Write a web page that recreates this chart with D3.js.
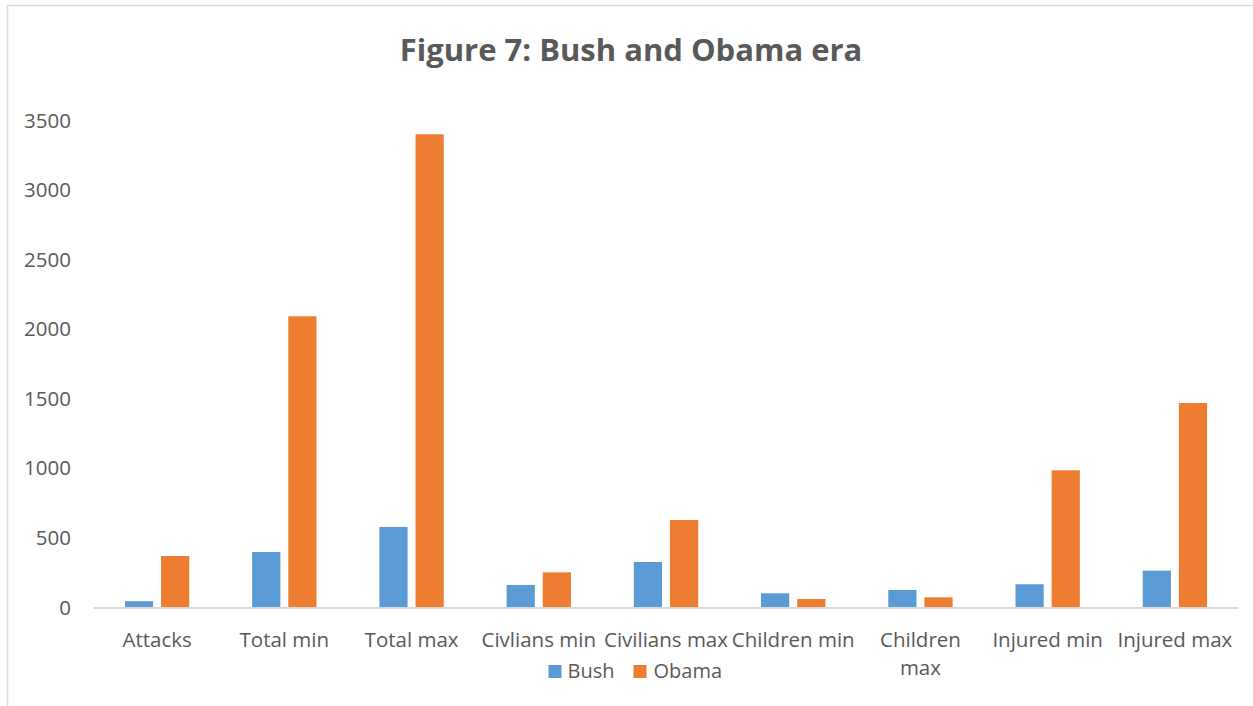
<!DOCTYPE html>
<html>
<head>
<meta charset="utf-8">
<script src="https://cdn.jsdelivr.net/npm/d3@7"></script>
<style>
  html, body { margin: 0; padding: 0; background: #fff; }
  svg { display: block; font-family: "Open Sans", sans-serif; }
</style>
</head>
<body>
<svg id="chart" width="1253" height="706"></svg>
<script>
const title = "Figure 7: Bush and Obama era";
const categories = ["Attacks", "Total min", "Total max", "Civlians min", "Civilians max", "Children min", "Children max", "Injured min", "Injured max"];
const categoryLines = [["Attacks"], ["Total min"], ["Total max"], ["Civlians min"], ["Civilians max"], ["Children min"], ["Children", "max"], ["Injured min"], ["Injured max"]];
const seriesNames = ["Bush", "Obama"];
const bushValues  = [45, 399, 579, 162, 327, 102, 126, 167, 265];
const obamaValues = [370, 2093, 3401, 253, 629, 61, 73, 986, 1470];
const yTicks = [0, 500, 1000, 1500, 2000, 2500, 3000, 3500];
const colors = ["#5B9BD5", "#ED7D31"];

const svg = d3.select("#chart");
const textColor = "#595959";

// chart border
svg.append("rect")
  .attr("x", 7.5).attr("y", 5.5)
  .attr("width", 1260).attr("height", 720)
  .attr("fill", "none").attr("stroke", "#d9d9d9").attr("stroke-width", 1.5);

const plotLeft = 93.5, plotRight = 1238.5, plotTop = 120.5, plotBottom = 607.5;

const x0 = d3.scaleBand().domain(categories).range([plotLeft, plotRight]).padding(0);
const x1 = d3.scaleBand().domain(seriesNames).range([0, x0.bandwidth()])
  .paddingInner(0.22).paddingOuter(0.87);
const y = d3.scaleLinear().domain([0, 3500]).range([plotBottom, plotTop]);

// title
svg.append("text")
  .attr("x", 631).attr("y", 61)
  .attr("text-anchor", "middle")
  .attr("font-size", 31).attr("font-weight", "bold")
  .attr("fill", textColor)
  .text(title);

// y axis
const yAxis = svg.append("g")
  .attr("transform", `translate(${plotLeft},0)`)
  .call(d3.axisLeft(y).tickValues(yTicks).tickSize(0).tickPadding(22.5).tickFormat(d3.format("d")));
yAxis.select(".domain").remove();
yAxis.selectAll("text").attr("font-size", 20.5).attr("fill", textColor).attr("font-family", "Open Sans, sans-serif");

// bars
const data = categories.map((c, i) => ({ c, vals: [bushValues[i], obamaValues[i]] }));
const groups = svg.append("g").selectAll("g").data(data).join("g")
  .attr("transform", d => `translate(${x0(d.c)},0)`);
groups.selectAll("rect").data(d => d.vals.map((v, j) => ({ s: seriesNames[j], v, j })))
  .join("rect")
  .attr("x", d => x1(d.s))
  .attr("width", x1.bandwidth())
  .attr("y", d => y(d.v))
  .attr("height", d => y(0) - y(d.v))
  .attr("fill", d => colors[d.j]);

// baseline
svg.append("line")
  .attr("x1", plotLeft).attr("x2", plotRight)
  .attr("y1", plotBottom + 0.5).attr("y2", plotBottom + 0.5)
  .attr("stroke", "#d9d9d9").attr("stroke-width", 2);

// category labels
const xl = svg.append("g");
categories.forEach((c, i) => {
  const t = xl.append("text")
    .attr("x", x0(c) + x0.bandwidth() / 2)
    .attr("y", 647)
    .attr("text-anchor", "middle")
    .attr("font-size", 20.5).attr("fill", textColor);
  categoryLines[i].forEach((ln, k) => {
    t.append("tspan").attr("x", x0(c) + x0.bandwidth() / 2).attr("dy", k === 0 ? 0 : 28).text(ln);
  });
});

// legend
const legendItems = [{ sx: 548.5, tx: 567.5 }, { sx: 633.5, tx: 653.5 }];
const lg = svg.append("g");
legendItems.forEach((d, i) => {
  lg.append("rect").attr("x", d.sx).attr("y", 665).attr("width", 13).attr("height", 13).attr("fill", colors[i]);
  lg.append("text").attr("x", d.tx).attr("y", 677.5).attr("font-size", 20).attr("fill", textColor).text(seriesNames[i]);
});
</script>
</body>
</html>
